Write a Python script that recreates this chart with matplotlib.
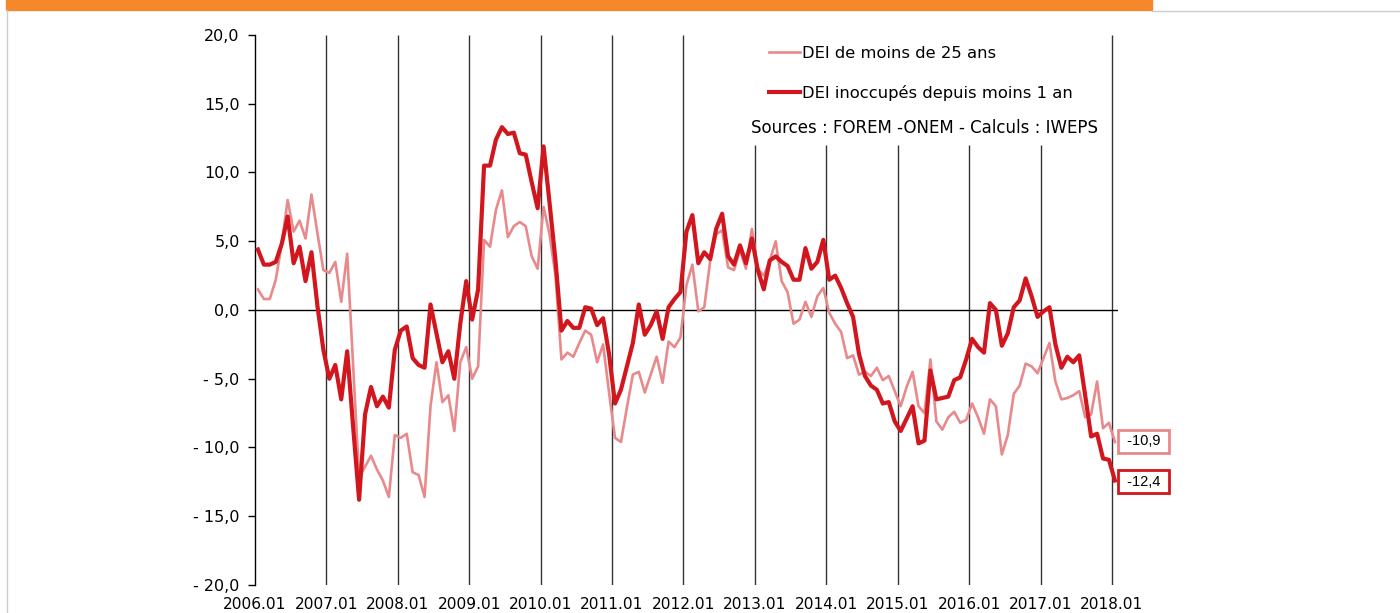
import numpy as np
import matplotlib
matplotlib.use("Agg")
import matplotlib.pyplot as plt
from matplotlib.patches import Rectangle
from matplotlib.lines import Line2D

# séries mensuelles 2006.01 -> 2018.01 (variation annuelle en %)
moins_25 = [1.5, 0.8, 0.8, 2.2, 4.8, 8.0, 5.7, 6.5, 5.2, 8.4, 5.6, 2.9,
            2.7, 3.5, 0.6, 4.1, -4.0, -12.2, -11.4, -10.6, -11.6, -12.4, -13.6, -9.1,
            -9.3, -9.0, -11.8, -12.0, -13.6, -7.0, -3.8, -6.7, -6.2, -8.8, -3.8, -2.7,
            -5.0, -4.1, 5.1, 4.6, 7.3, 8.7, 5.3, 6.1, 6.4, 6.1, 3.9, 3.0,
            7.5, 5.5, 2.5, -3.6, -3.1, -3.4, -2.4, -1.5, -1.8, -3.8, -2.5, -6.0,
            -9.3, -9.6, -7.1, -4.7, -4.5, -6.0, -4.7, -3.4, -5.3, -2.3, -2.7, -2.0,
            1.8, 3.3, -0.1, 0.2, 3.6, 5.5, 5.8, 3.1, 2.9, 4.4, 3.0, 5.9,
            3.0, 2.5, 3.6, 5.0, 2.1, 1.3, -1.0, -0.7, 0.6, -0.5, 1.0, 1.6,
            -0.2, -1.0, -1.6, -3.5, -3.3, -4.7, -4.5, -4.8, -4.2, -5.1, -4.8, -5.9,
            -7.0, -5.6, -4.5, -7.0, -7.5, -3.6, -8.1, -8.7, -7.8, -7.4, -8.2, -8.0,
            -6.8, -7.8, -9.0, -6.5, -7.0, -10.5, -9.1, -6.1, -5.5, -3.9, -4.1, -4.6,
            -3.5, -2.4, -5.2, -6.5, -6.4, -6.2, -5.9, -7.8, -7.6, -5.2, -8.6, -8.2,
            -9.6]

moins_1an = [4.4, 3.3, 3.3, 3.5, 4.8, 6.8, 3.4, 4.6, 2.1, 4.2, 0.3, -2.9,
             -5.0, -4.0, -6.5, -3.0, -8.5, -13.8, -7.6, -5.6, -7.0, -6.3, -7.1, -2.9,
             -1.5, -1.2, -3.5, -4.0, -4.2, 0.4, -1.7, -3.8, -3.0, -5.0, -1.0, 2.1,
             -0.7, 1.5, 10.5, 10.5, 12.4, 13.3, 12.8, 12.9, 11.4, 11.3, 9.3, 7.4,
             11.9, 7.8, 3.6, -1.5, -0.8, -1.3, -1.3, 0.2, 0.1, -1.1, -0.6, -3.2,
             -6.8, -5.8, -4.1, -2.4, 0.4, -1.8, -1.1, -0.1, -2.1, 0.2, 0.8, 1.3,
             5.7, 6.9, 3.4, 4.2, 3.7, 5.9, 7.0, 3.9, 3.3, 4.7, 3.4, 5.2,
             2.9, 1.5, 3.6, 3.9, 3.5, 3.2, 2.2, 2.2, 4.5, 3.0, 3.5, 5.1,
             2.2, 2.5, 1.6, 0.5, -0.5, -3.2, -4.8, -5.5, -5.8, -6.8, -6.7, -8.1,
             -8.8, -7.9, -7.0, -9.7, -9.5, -4.4, -6.5, -6.4, -6.3, -5.1, -4.9, -3.6,
             -2.1, -2.7, -3.1, 0.5, 0.0, -2.6, -1.7, 0.2, 0.7, 2.3, 1.0, -0.5,
             -0.1, 0.2, -2.5, -4.2, -3.4, -3.8, -3.3, -6.2, -9.2, -9.0, -10.8, -10.9,
             -12.4]

annees = ['2006.01', '2007.01', '2008.01', '2009.01', '2010.01', '2011.01', '2012.01',
          '2013.01', '2014.01', '2015.01', '2016.01', '2017.01', '2018.01']
etiquettes_fin = ['-10,9', '-12,4']

clair = '#E8898B'
fonce = '#D2161E'

plt.rcParams['font.family'] = ['DejaVu Sans']

fig = plt.figure(figsize=(14, 6.13), dpi=100)
ax = fig.add_axes([0.1821, 0.0457, 0.6164, 0.8972])

x = np.arange(len(moins_1an))
pos_annees = np.arange(len(annees)) * 12 - 0.5

# lignes verticales des années (coupées sous la légende pour 2013-2017)
for k, p in enumerate(pos_annees[1:], start=1):
    haut = 12.0 if 7 <= k <= 11 else 20
    ax.vlines(p, -20, haut, color='#333333', lw=1, zorder=1)
ax.axhline(0, color='black', lw=1, zorder=1)

ax.plot(x, moins_25, color=clair, lw=1.9, label='DEI de moins de 25 ans', zorder=3)
ax.plot(x, moins_1an, color=fonce, lw=3.0, label='DEI inoccupés depuis moins 1 an', zorder=4)

ax.set_xlim(-0.5, 144.5)
ax.set_ylim(-20, 20)

def fmt(v, pos=None):
    s = f'{abs(v):.1f}'.replace('.', ',')
    return ('- ' + s) if v < 0 else s

yt = np.arange(-20, 21, 5)
ax.set_yticks(yt)
ax.set_yticklabels([fmt(v) for v in yt], fontsize=11.5)
ax.tick_params(axis='y', length=5, width=1, pad=6, colors='black')
ax.set_xticks(pos_annees)
ax.set_xticklabels(annees, fontsize=11.1)
ax.tick_params(axis='x', length=0, pad=9)

for s in ['top', 'right', 'bottom']:
    ax.spines[s].set_visible(False)
ax.spines['left'].set_linewidth(1)

leg = ax.legend(loc='upper left', bbox_to_anchor=(0.5495, 0.9255), bbox_transform=fig.transFigure,
                frameon=False, fontsize=11.8, handlelength=1.85, handletextpad=0.15,
                labelspacing=1.48, borderpad=0, borderaxespad=0)
fig.text(0.6604, 0.7912, 'Sources : FOREM -ONEM - Calculs : IWEPS', fontsize=12.0,
         ha='center', va='center')

# étiquettes de fin de série
for val, txt, col in [(moins_25[-1], etiquettes_fin[0], clair), (moins_1an[-1], etiquettes_fin[1], fonce)]:
    ax.text(148.8, val + 0.05 if col == clair else val - 0.1, ' ' + txt + ' ', ha='center', va='center',
            fontsize=10.5, family='Liberation Sans', clip_on=False, zorder=5,
            bbox=dict(boxstyle='square,pad=0.3', fc='white', ec=col, lw=2))

# bandeau orange et cadre
fig.patches.append(Rectangle((6 / 1400, 1 - 10 / 613), 1146 / 1400, 10 / 613,
                             transform=fig.transFigure, color='#F5882A', zorder=0))
fig.lines.append(Line2D([1152 / 1400, 1], [1 - 11 / 613] * 2, transform=fig.transFigure,
                        color='#CCCCCC', lw=1))
fig.lines.append(Line2D([6.5 / 1400] * 2, [0, 1 - 10 / 613], transform=fig.transFigure,
                        color='#CCCCCC', lw=1))

fig.savefig('out.png', dpi=100)
